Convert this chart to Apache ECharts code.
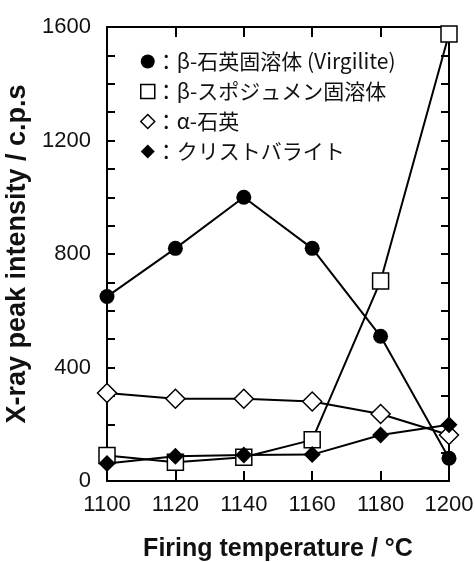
<!DOCTYPE html>
<html>
<head>
<meta charset="utf-8">
<script src="https://cdn.jsdelivr.net/npm/echarts@6/dist/echarts.min.js"></script>
<style>
  html, body { margin: 0; padding: 0; background: #fff; }
  #chart { width: 475px; height: 562px; }
</style>
</head>
<body>
<div id="chart"></div>
<script>
// Firing temperature (°C)
const temperatures = [1100, 1120, 1140, 1160, 1180, 1200];

// X-ray peak intensity (c.p.s) per crystalline phase
const virgilite    = [650, 820, 1000, 820, 510, 80];
const spodumene    = [90, 66, 84, 145, 705, 1575];
const alphaQuartz  = [310, 290, 290, 280, 236, 162];
const cristobalite = [62, 87, 92, 93, 162, 198];

// Phase names shown in the legend
const phaseNames = [
  'β-石英固溶体 (Virgilite)',
  'β-スポジュメン固溶体',
  'α-石英',
  'クリストバライト'
];

const latin = "'Liberation Sans', Arial, Helvetica, sans-serif";
const cjk = "'Noto Sans CJK JP', 'Noto Sans', sans-serif";

const pairs = vals => temperatures.map((t, i) => [t, vals[i]]);
const plain = v => String(v);

const frameLine = { show: true, onZero: false, lineStyle: { color: '#000', width: 2 } };

const chart = echarts.init(document.getElementById('chart'), null, { renderer: 'canvas' });

const lineBase = {
  type: 'line',
  clip: false,
  lineStyle: { color: '#000', width: 2 },
  emphasis: { disabled: true },
  animation: false
};

chart.setOption({
  animation: false,
  backgroundColor: '#fff',
  grid: { left: 107, right: 26, top: 27, bottom: 81, containLabel: false, outerBoundsMode: 'none' },
  legend: {
    orient: 'vertical',
    left: 135,
    top: 45,
    itemWidth: 14,
    itemHeight: 14,
    itemGap: 7,
    selectedMode: false,
    formatter: name => '：' + name,
    textStyle: { fontFamily: cjk, fontSize: 21, color: '#111', lineHeight: 23, padding: [0, 0, 0, -4] },
    data: [
      { name: phaseNames[0], icon: 'circle', itemStyle: { color: '#000', borderWidth: 0 } },
      { name: phaseNames[1], icon: 'rect', itemStyle: { color: '#fff', borderColor: '#000', borderWidth: 1.5 } },
      { name: phaseNames[2], icon: 'diamond', itemStyle: { color: '#fff', borderColor: '#000', borderWidth: 1.5 } },
      { name: phaseNames[3], icon: 'diamond', itemStyle: { color: '#000', borderWidth: 0 } }
    ]
  },
  xAxis: [
    {
      type: 'value',
      position: 'bottom',
      min: 1100, max: 1200, interval: 20,
      axisLine: frameLine,
      axisTick: { show: true, inside: true, length: 10, lineStyle: { color: '#000', width: 2 } },
      axisLabel: { fontFamily: latin, fontSize: 22, color: '#111', margin: 13, formatter: plain },
      splitLine: { show: false },
      name: 'Firing temperature / °C',
      nameLocation: 'middle',
      nameGap: 56,
      nameTextStyle: { fontFamily: latin, fontSize: 25, fontWeight: 'bold', color: '#111' }
    },
    {
      type: 'value',
      position: 'top',
      min: 1100, max: 1200, interval: 20,
      axisLine: frameLine,
      axisTick: { show: true, inside: true, length: 10, lineStyle: { color: '#000', width: 2 } },
      axisLabel: { show: false },
      splitLine: { show: false }
    }
  ],
  yAxis: [
    {
      type: 'value',
      position: 'left',
      min: 0, max: 1600, interval: 400,
      axisLine: frameLine,
      axisTick: { show: true, inside: true, length: 8, lineStyle: { color: '#000', width: 2 } },
      minorTick: { show: true, splitNumber: 4, length: 8, lineStyle: { color: '#000', width: 2 } },
      axisLabel: { fontFamily: latin, fontSize: 22, color: '#111', margin: 16, formatter: plain },
      splitLine: { show: false },
      minorSplitLine: { show: false },
      name: 'X-ray peak intensity / c.p.s',
      nameLocation: 'middle',
      nameGap: 68,
      nameTextStyle: { fontFamily: latin, fontSize: 27, fontWeight: 'bold', color: '#111' }
    },
    {
      type: 'value',
      position: 'right',
      min: 0, max: 1600, interval: 400,
      axisLine: frameLine,
      axisTick: { show: true, inside: true, length: 8, lineStyle: { color: '#000', width: 2 } },
      minorTick: { show: true, splitNumber: 4, length: 8, lineStyle: { color: '#000', width: 2 } },
      axisLabel: { show: false },
      splitLine: { show: false },
      minorSplitLine: { show: false }
    }
  ],
  series: [
    Object.assign({}, lineBase, {
      name: phaseNames[0],
      data: pairs(virgilite),
      symbol: 'circle',
      symbolSize: 15,
      itemStyle: { color: '#000' },
      z: 3
    }),
    Object.assign({}, lineBase, {
      name: phaseNames[1],
      data: pairs(spodumene),
      symbol: 'rect',
      symbolSize: 16,
      itemStyle: { color: '#fff', borderColor: '#000', borderWidth: 1.5 },
      z: 4
    }),
    Object.assign({}, lineBase, {
      name: phaseNames[2],
      data: pairs(alphaQuartz),
      symbol: 'diamond',
      symbolSize: 19,
      itemStyle: { color: '#fff', borderColor: '#000', borderWidth: 1.5 },
      z: 5
    }),
    Object.assign({}, lineBase, {
      name: phaseNames[3],
      data: pairs(cristobalite),
      symbol: 'diamond',
      symbolSize: 17,
      itemStyle: { color: '#000' },
      z: 6
    })
  ]
});
</script>
</body>
</html>
